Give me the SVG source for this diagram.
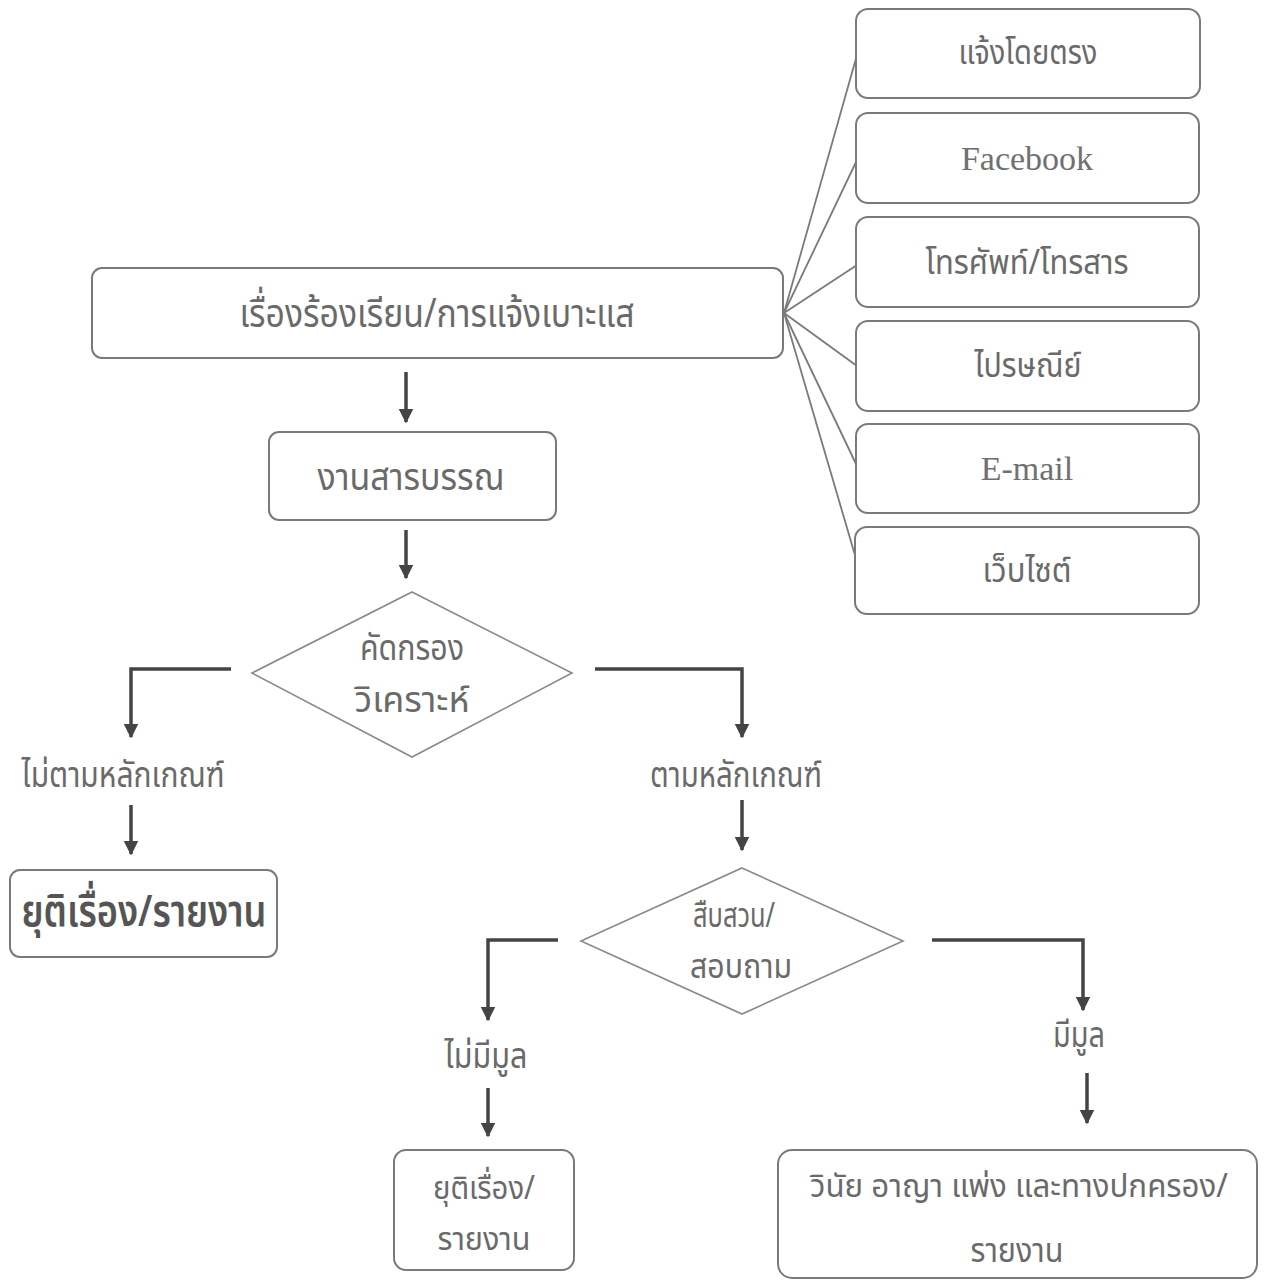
<svg xmlns="http://www.w3.org/2000/svg" width="1265" height="1281" viewBox="0 0 1265 1281">
<defs>
<style>
.bg{fill:#ffffff}
.box{fill:#ffffff;stroke:#7a7a7a;stroke-width:2}
.dia{fill:#ffffff;stroke:#8a8a8a;stroke-width:1.6}
.th{font-family:"Noto Sans Thai","Noto Sans","DejaVu Sans",sans-serif;fill:#6a6a6a;text-anchor:middle}
.en{font-family:"Liberation Serif",serif;fill:#707070;text-anchor:middle;font-size:34px}
.fan{fill:none;stroke:#7a7a7a;stroke-width:1.8}
.flow{fill:none;stroke:#444444;stroke-width:3.5}
</style>
<marker id="ah" viewBox="0 0 10 10" refX="9" refY="5" markerWidth="4.2" markerHeight="4.6" orient="auto" markerUnits="strokeWidth">
<path d="M0,0 L10,5 L0,10 z" fill="#444444"/>
</marker>
</defs>
<rect class="bg" x="0" y="0" width="1265" height="1281"/>

<g id="connectors">
<path class="fan" d="M784,313 L857,55"/>
<path class="fan" d="M784,313 L857,160"/>
<path class="fan" d="M784,313 L857,265"/>
<path class="fan" d="M784,313 L857,366"/>
<path class="fan" d="M784,313 L857,466"/>
<path class="fan" d="M784,313 L857,562"/>
<path class="flow" d="M406,372 L406,422" marker-end="url(#ah)"/>
<path class="flow" d="M406,530 L406,578" marker-end="url(#ah)"/>
<path class="flow" d="M231,669 L131,669 L131,737" marker-end="url(#ah)"/>
<path class="flow" d="M131,805 L131,854" marker-end="url(#ah)"/>
<path class="flow" d="M595,669 L742,669 L742,737" marker-end="url(#ah)"/>
<path class="flow" d="M742,800 L742,850" marker-end="url(#ah)"/>
<path class="flow" d="M558,940 L488,940 L488,1020" marker-end="url(#ah)"/>
<path class="flow" d="M488,1088 L488,1136" marker-end="url(#ah)"/>
<path class="flow" d="M932,940 L1083,940 L1083,1010" marker-end="url(#ah)"/>
<path class="flow" d="M1087,1073 L1087,1123" marker-end="url(#ah)"/>
</g>

<g id="n-direct">
<rect class="box" x="856" y="9" width="344" height="89" rx="12"/>
<text class="th" x="1028" y="64" font-size="34" textLength="139" lengthAdjust="spacingAndGlyphs">แจ้งโดยตรง</text>
</g>
<g id="n-facebook">
<rect class="box" x="856" y="113" width="343" height="90" rx="12"/>
<text class="en" x="1027" y="170">Facebook</text>
</g>
<g id="n-phone">
<rect class="box" x="856" y="217" width="343" height="90" rx="12"/>
<text class="th" x="1027" y="274" font-size="34" textLength="203" lengthAdjust="spacingAndGlyphs">โทรศัพท์/โทรสาร</text>
</g>
<g id="n-post">
<rect class="box" x="856" y="321" width="343" height="90" rx="12"/>
<text class="th" x="1028" y="377" font-size="34" textLength="107" lengthAdjust="spacingAndGlyphs">ไปรษณีย์</text>
</g>
<g id="n-email">
<rect class="box" x="856" y="424" width="343" height="89" rx="12"/>
<text class="en" x="1027" y="480">E-mail</text>
</g>
<g id="n-web">
<rect class="box" x="855" y="527" width="344" height="87" rx="12"/>
<text class="th" x="1027" y="582" font-size="34" textLength="89" lengthAdjust="spacingAndGlyphs">เว็บไซต์</text>
</g>

<g id="n-complaint">
<rect class="box" x="92" y="268" width="691" height="90" rx="10"/>
<text class="th" x="437" y="327" font-size="40" textLength="395" lengthAdjust="spacingAndGlyphs">เรื่องร้องเรียน/การแจ้งเบาะแส</text>
</g>
<g id="n-saraban">
<rect class="box" x="269" y="432" width="287" height="88" rx="10"/>
<text class="th" x="411" y="490" font-size="38" textLength="187" lengthAdjust="spacingAndGlyphs">งานสารบรรณ</text>
</g>
<g id="n-screen">
<polygon class="dia" points="412,592 572,673 412,757 252,673"/>
<text class="th" x="412" y="660" font-size="36" textLength="104" lengthAdjust="spacingAndGlyphs">คัดกรอง</text>
<text class="th" x="412" y="712" font-size="36" textLength="115" lengthAdjust="spacingAndGlyphs">วิเคราะห์</text>
</g>
<g id="n-notcriteria">
<text class="th" x="123" y="787" font-size="36" textLength="203" lengthAdjust="spacingAndGlyphs">ไม่ตามหลักเกณฑ์</text>
</g>
<g id="n-stop1">
<rect class="box" x="10" y="870" width="267" height="87" rx="10"/>
<text class="th" x="144" y="926" font-size="44" font-weight="600" style="fill:#555555" textLength="245" lengthAdjust="spacingAndGlyphs">ยุติเรื่อง/รายงาน</text>
</g>
<g id="n-criteria">
<text class="th" x="736" y="787" font-size="36" textLength="172" lengthAdjust="spacingAndGlyphs">ตามหลักเกณฑ์</text>
</g>
<g id="n-investigate">
<polygon class="dia" points="742,868 903,941 742,1014 581,941"/>
<text class="th" x="734" y="927" font-size="34" textLength="82" lengthAdjust="spacingAndGlyphs">สืบสวน/</text>
<text class="th" x="741" y="978" font-size="34" textLength="102" lengthAdjust="spacingAndGlyphs">สอบถาม</text>
</g>
<g id="n-nobasis">
<text class="th" x="486" y="1068" font-size="36" textLength="83" lengthAdjust="spacingAndGlyphs">ไม่มีมูล</text>
</g>
<g id="n-stop2">
<rect class="box" x="394" y="1150" width="180" height="120" rx="12"/>
<text class="th" x="484" y="1199" font-size="32" textLength="102" lengthAdjust="spacingAndGlyphs">ยุติเรื่อง/</text>
<text class="th" x="484" y="1250" font-size="32" textLength="93" lengthAdjust="spacingAndGlyphs">รายงาน</text>
</g>
<g id="n-basis">
<text class="th" x="1079" y="1047" font-size="36" textLength="52" lengthAdjust="spacingAndGlyphs">มีมูล</text>
</g>
<g id="n-action">
<rect class="box" x="778" y="1150" width="479" height="128" rx="14"/>
<text class="th" x="1019" y="1197" font-size="32" textLength="418" lengthAdjust="spacingAndGlyphs">วินัย อาญา แพ่ง และทางปกครอง/</text>
<text class="th" x="1017" y="1262" font-size="34" textLength="93" lengthAdjust="spacingAndGlyphs">รายงาน</text>
</g>
</svg>
